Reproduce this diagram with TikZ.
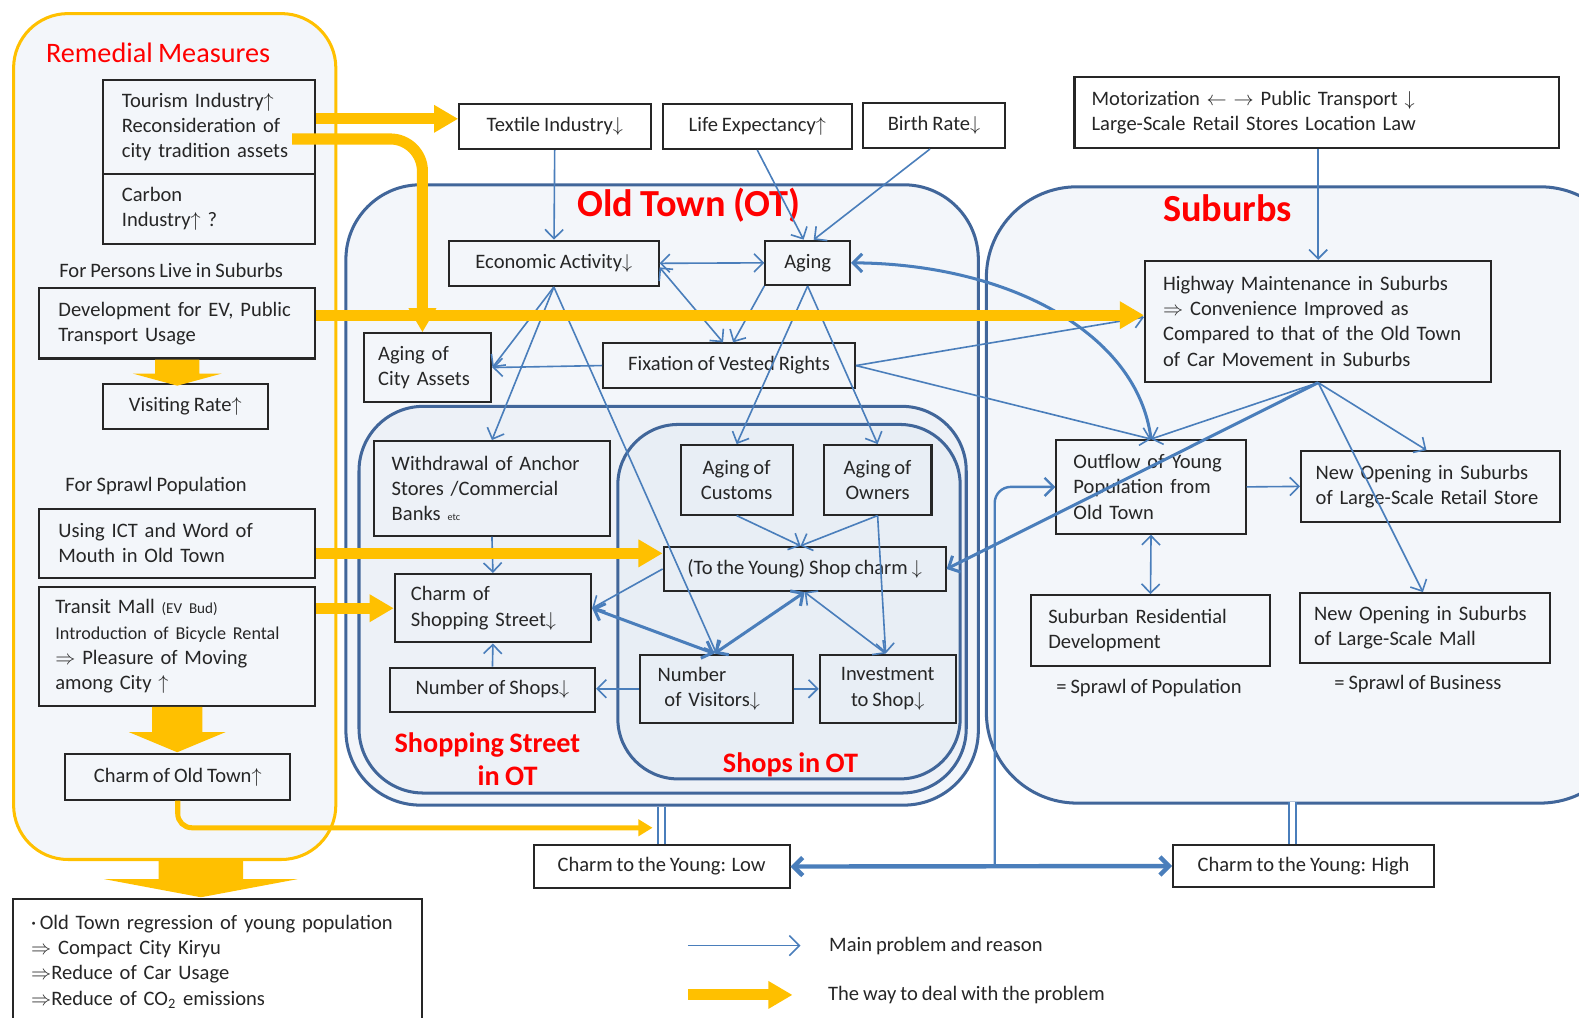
\documentclass[tikz,border=0pt]{standalone}
\usepackage{fontspec}
\setmainfont{Carlito}[WordSpace=0.85]
\usetikzlibrary{arrows.meta,positioning}
\definecolor{boxline}{HTML}{262626}
\definecolor{causeblue}{HTML}{4A7EBB}
\definecolor{regionblue}{HTML}{41669A}
\definecolor{regionfill}{HTML}{F3F6FA}
\definecolor{streetfill}{HTML}{EDF1F7}
\definecolor{shopfill}{HTML}{E8EEF5}
\definecolor{remedyyellow}{HTML}{FFC000}
\definecolor{titlered}{HTML}{FF0000}

\begin{document}
\begin{tikzpicture}[
    x=0.5pt, y=-0.5pt,
    factor/.style={
        draw=boxline,
        line width=1pt,
        inner sep=0pt,
        align=center,
        anchor=north west,
        text=boxline,
        font=\fontsize{10.2}{12.5}\selectfont
    },
    dims/.style 2 args={minimum width=#1, minimum height=#2},
    region/.style={draw=regionblue, line width=1.5pt, fill=regionfill, anchor=north west, inner sep=0pt},
    title/.style={text=titlered, inner sep=0pt},
    note/.style={text=boxline, inner sep=0pt, font=\fontsize{10.2}{12.5}\selectfont},
    cause/.style={draw=causeblue, line width=0.8pt, -{Straight Barb[length=4.5pt,width=9pt]}},
    mutual/.style={cause, {Straight Barb[length=4.5pt,width=9pt]}-{Straight Barb[length=4.5pt,width=9pt]}},
    strong/.style={line width=1.5pt},
    pipe/.style={draw=causeblue, line width=0.8pt, double=white, double distance=2.5pt},
    remedy/.style={draw=remedyyellow, line width=5.5pt, -{Triangle[length=12pt,width=13pt]}},
    remedythin/.style={draw=remedyyellow, line width=2.5pt, -{Triangle[length=7pt,width=8pt]}}
]
    \useasboundingbox (0,0) rectangle (1568,1010);

    % regions
    \node[region, dims={320pt}{306pt}, rounded corners=45pt] (suburbs) at (978,184) {};
    \node[region, dims={314pt}{308pt}, rounded corners=37pt] (oldtown) at (342,182) {};
    \node[region, dims={301.5pt}{192pt}, rounded corners=32pt, fill=streetfill] (street) at (355,402) {};
    \node[region, dims={170pt}{176pt}, rounded corners=30pt, fill=shopfill] (shops) at (612,420) {};
    \node[region, dims={160pt}{420pt}, rounded corners=27pt, draw=remedyyellow] (measures) at (12,12) {};

    \node[title, font=\fontsize{14}{16}\selectfont] (measurestitle) at (157,52) {Remedial Measures};
    \node[title, font=\fontsize{19}{22}\selectfont\bfseries] (oldtowntitle) at (684,204) {Old Town (OT)};
    \node[title, font=\fontsize{19}{22}\selectfont\bfseries] (suburbstitle) at (1219,207) {Suburbs};
    \node[title, align=center, font=\fontsize{14}{16}\selectfont\bfseries] (streettitle) at (484,754)
        {Shopping Street\\\hspace*{20pt}in OT};
    \node[title, font=\fontsize{14}{16}\selectfont\bfseries] (shopstitle) at (785,759) {Shops in OT};

    % remedial measures
    \node[factor, dims={105.5pt}{47pt}, text width=86.5pt, align=left] (tourism) at (101,78)
        {Tourism Industry$\uparrow$\\Reconsideration of\\city tradition assets};
    \node[factor, dims={105.5pt}{34.5pt}, text width=86.5pt, align=left] (carbon) at (101,172)
        {Carbon\\Industry$\uparrow$ ?};
    \node[note] (suburbnote) at (170,269) {For Persons Live in Suburbs};
    \node[factor, dims={137pt}{35pt}, text width=118pt, align=left] (ev) at (38,285)
        {Development for EV, Public\\Transport Usage};
    \node[factor, dims={82pt}{22.5pt}] (visiting) at (101,380) {Visiting Rate$\uparrow$};
    \node[note] (sprawlnote) at (155,483) {For Sprawl Population};
    \node[factor, dims={137pt}{34.5pt}, text width=118pt, align=left] (ict) at (38,504)
        {Using ICT and Word of\\Mouth in Old Town};
    \node[factor, dims={137pt}{59pt}, text width=121pt, align=left] (transit) at (38,582)
        {Transit Mall {\fontsize{7.5}{9}\selectfont (EV Bud)}\\{\fontsize{9}{12}\selectfont Introduction of Bicycle Rental}\\$\Rightarrow$ Pleasure of Moving\\among City $\uparrow$};
    \node[factor, dims={111.5pt}{22.5pt}] (charmot) at (64,748) {Charm of Old Town$\uparrow$};
    \node[factor, dims={203pt}{62pt}, text width=185pt, align=left, fill=white] (outcome) at (12,892)
        {·\,Old Town regression of young population\\$\Rightarrow$ Compact City Kiryu\\$\Rightarrow$Reduce of Car Usage\\$\Rightarrow$Reduce of CO\textsubscript{2} emissions};

    % causes above
    \node[factor, dims={95pt}{22.5pt}, fill=white] (textile) at (455,102) {Textile Industry$\downarrow$};
    \node[factor, dims={94pt}{22.5pt}, fill=white] (life) at (657,102) {Life Expectancy$\uparrow$};
    \node[factor, dims={70.5pt}{22.5pt}, fill=white] (birth) at (856,101) {Birth Rate$\downarrow$};
    \node[factor, dims={240.5pt}{35.5pt}, text width=223.5pt, align=left, fill=white] (motorization) at (1066,75)
        {Motorization $\leftarrow$ $\rightarrow$ Public Transport $\downarrow$\\Large-Scale Retail Stores Location Law};

    % old town
    \node[factor, dims={104pt}{22.5pt}] (economic) at (445,238) {Economic Activity$\downarrow$};
    \node[factor, dims={42pt}{22pt}] (aging) at (759,238) {Aging};
    \node[factor, dims={63.5pt}{34pt}, text width=49pt, align=left] (cityassets) at (360,330)
        {Aging of\\City Assets};
    \node[factor, dims={125pt}{22pt}] (fixation) at (598,340) {Fixation of Vested Rights};
    \node[factor, dims={117.5pt}{47pt}, text width=99.5pt, align=left] (withdrawal) at (370,437)
        {Withdrawal of Anchor\\Stores /Commercial\\Banks {\fontsize{5}{6}\selectfont etc}};
    \node[factor, dims={55.5pt}{34.5pt}] (customs) at (675,441) {Aging of\\Customs};
    \node[factor, dims={53.5pt}{34.5pt}] (owners) at (817,441) {Aging of\\Owners};
    \node[factor, dims={140pt}{22pt}] (shopcharm) at (658,542) {(To the Young) Shop charm $\downarrow$};
    \node[factor, dims={97.5pt}{34pt}, text width=81.5pt, align=left] (streetcharm) at (391,569)
        {Charm of\\Shopping Street$\downarrow$};
    \node[factor, dims={102pt}{22pt}] (shopcount) at (386,662) {Number of Shops$\downarrow$};
    \node[factor, dims={75.5pt}{34pt}, text width=58.5pt, align=left] (visitors) at (635,649)
        {Number\\\ of Visitors$\downarrow$};
    \node[factor, dims={67.5pt}{34pt}] (investment) at (813,649) {Investment\\to Shop$\downarrow$};

    % suburbs
    \node[factor, dims={172pt}{60pt}, text width=154pt, align=left] (highway) at (1136,258)
        {Highway Maintenance in Suburbs\\$\Rightarrow$ Convenience Improved as\\Compared to that of the Old Town\\of Car Movement in Suburbs};
    \node[factor, dims={94pt}{46.5pt}, text width=77pt, align=left] (outflow) at (1048,436)
        {Outflow of Young\\Population from\\Old Town};
    \node[factor, dims={128.5pt}{35pt}, text width=114pt, align=left] (retail) at (1291,447)
        {New Opening in Suburbs\\of Large-Scale Retail Store};
    \node[factor, dims={118.5pt}{35pt}, text width=101.5pt, align=left] (residential) at (1023,590)
        {Suburban Residential\\Development};
    \node[factor, dims={124pt}{34.5pt}, text width=110pt, align=left] (mall) at (1290,588)
        {New Opening in Suburbs\\of Large-Scale Mall};
    \node[note] (popsprawl) at (1141,683) {= Sprawl of Population};
    \node[note] (bizsprawl) at (1408,679) {= Sprawl of Business};

    % charm to the young
    \node[factor, dims={127pt}{21.5pt}, fill=white] (lowcharm) at (529,838) {Charm to the Young: Low};
    \node[factor, dims={129.5pt}{21pt}, fill=white] (highcharm) at (1164,838) {Charm to the Young: High};

    % main problems and reasons
    \draw[cause] (textile) -- (economic);
    \draw[cause] (life.south) -- ([xshift=-2pt]aging.north);
    \draw[cause] ([xshift=-2pt]birth.south) -- ([xshift=3pt]aging.north);
    \draw[mutual] (economic.east) -- (aging.west);
    \draw[mutual] ([yshift=-2pt]economic.east) -- ([xshift=-3pt]fixation.north);
    \draw[cause] (aging.south west) -- ([xshift=2pt]fixation.north);
    \draw[cause] (economic.south) -- (cityassets.east);
    \draw[cause] (economic.south) -- (withdrawal.north);
    \draw[cause] (economic.south) -- (visitors.north);
    \draw[cause] (fixation.west) -- (cityassets.east);
    \draw[cause] (aging.south) -- (customs.north);
    \draw[cause] (aging.south) -- (owners.north);
    \draw[cause] (fixation.east) -- ([yshift=2pt]highway.west);
    \draw[cause] (fixation.east) -- (outflow.north);
    \draw[cause] (motorization.south -| highway.north) -- (highway.north);
    \draw[cause] (highway.south) -- (outflow.north);
    \draw[cause, strong] (highway.south) -- (shopcharm.east);
    \draw[cause] (highway.south) -- ([xshift=-2pt]retail.north);
    \draw[cause] (highway.south) -- ([xshift=-1pt]mall.north);
    \draw[cause] (outflow.east) -- (retail.west);
    \draw[mutual] (outflow.south) -- (residential.north);
    \draw[cause, strong] (outflow.north) .. controls (1130,330) and (1000,262) .. (aging.east);
    \draw[cause] (customs.south) -- ([xshift=-2pt]shopcharm.north);
    \draw[cause] (owners.south) -- ([xshift=-2pt]shopcharm.north);
    \draw[cause] (owners.south) -- ([xshift=-1pt]investment.north);
    \draw[cause] (withdrawal.south) -- (streetcharm.north);
    \draw[cause] (shopcharm.west) -- (streetcharm.east);
    \draw[mutual, strong] (streetcharm.east) -- ([xshift=-1pt]visitors.north);
    \draw[mutual, strong] (shopcharm.south) -- ([xshift=-1pt]visitors.north);
    \draw[mutual] (shopcharm.south) -- ([xshift=-1pt]investment.north);
    \draw[cause] (visitors.west) -- (visitors.west -| shopcount.east);
    \draw[cause] (visitors.east) -- (investment.west);
    \draw[cause] (shopcount.north) -- (streetcharm.south);

    \draw[pipe] (lowcharm.north) -- (lowcharm.north |- oldtown.south);
    \draw[pipe] ([xshift=-5.5pt]highcharm.north) -- ++(0,-42);
    \draw[mutual, line width=2.2pt] (lowcharm.east) -- (highcharm.west);
    \path (lowcharm.east) -- (highcharm.west) coordinate[pos=0.535] (split);
    \draw[cause, line width=1.2pt, rounded corners=8pt] (split) |- (outflow.west);

    % ways to deal with the problem
    \coordinate (tourismsrc) at (290,138);
    \coordinate (lowentry) at (648,822);
    \draw[remedy] ([yshift=4pt]tourism.east) -- ([yshift=4pt]tourism.east -| textile.west);
    \draw[remedy, rounded corners=16pt] (tourismsrc) -| ([xshift=-2.5pt]cityassets.north);
    \draw[remedy] ([yshift=4pt]ev.east) -- ([yshift=4pt]ev.east -| highway.west);
    \draw[remedy] ([yshift=-5pt]ict.east) -- ([yshift=-5pt]ict.east -| shopcharm.west);
    \draw[remedy] (streetcharm.west -| transit.east) -- (streetcharm.west);
    \draw[remedythin, rounded corners=7pt] (charmot.south) |- (lowentry);
    \fill[remedyyellow] (ev.south) ++(-22,0) -- ++(44,0) -- ++(0,14) -- ++(22,0) -- ++(-44,12)
        -- ++(-44,-12) -- ++(22,0) -- cycle;
    \fill[remedyyellow] (transit.south) ++(-25,0) -- ++(50,0) -- ++(0,25) -- ++(23,0) -- ++(-48,20)
        -- ++(-48,-20) -- ++(23,0) -- cycle;
    \fill[remedyyellow] ([xshift=13pt]measures.south) ++(-42,0) -- ++(84,0) -- ++(0,18) -- ++(54,0)
        -- ++(-96,18) -- ++(-96,-18) -- ++(54,0) -- cycle;

    % legend
    \node[note, anchor=west] (legcause) at (823,939) {Main problem and reason};
    \draw[cause, -{Straight Barb[length=5pt,width=10pt]}] ([xshift=-70pt]legcause.west) -- ([xshift=-14pt]legcause.west);
    \node[note, anchor=west] (legremedy) at (822,988) {The way to deal with the problem};
    \draw[remedy] ([xshift=-69.5pt]legremedy.west) -- ([xshift=-17.5pt]legremedy.west);
\end{tikzpicture}
\end{document}
